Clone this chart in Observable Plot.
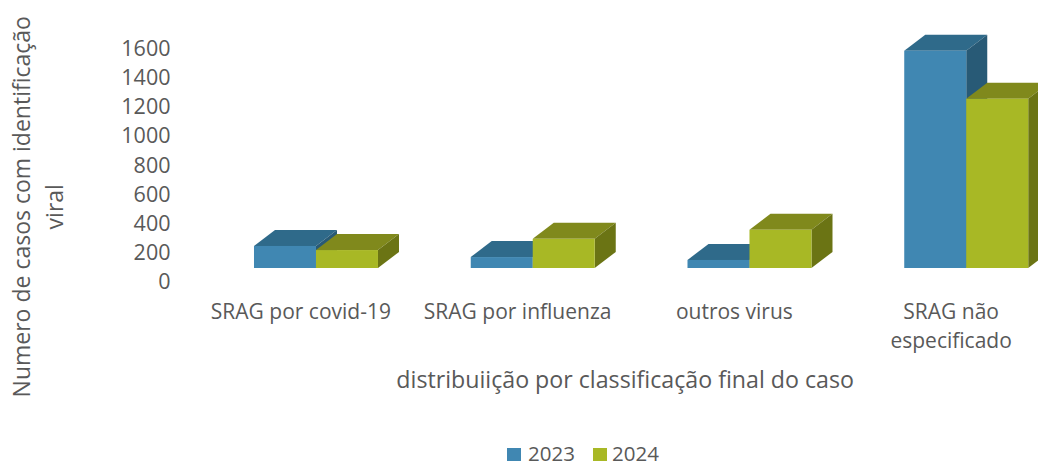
<!DOCTYPE html>
<html><head><meta charset="utf-8">
<script src="https://cdn.jsdelivr.net/npm/d3@7"></script>
<script src="https://cdn.jsdelivr.net/npm/@observablehq/plot@0.6"></script>
<style>
html,body{margin:0;padding:0;background:#fff;overflow:hidden;width:1038px;height:461px}
#legend{position:relative;height:21px;font:20.5px "Open Sans",sans-serif;color:#595959;line-height:26px}
#legend span{position:absolute;top:0;white-space:nowrap}
#legend i{position:absolute;top:8px;width:14px;height:14px}
</style></head><body>
<div id="chart"></div>
<div id="legend"></div>
<script>
const categories = ["SRAG por covid-19", "SRAG por influenza", "outros virus", "SRAG não\nespecificado"];
const years = ["2023", "2024"];
const values2023 = [151, 75, 55, 1489];
const values2024 = [123, 200, 262, 1160];
const yTicks = [0, 200, 400, 600, 800, 1000, 1200, 1400, 1600];
const yLabelLines = "Numero de casos com identificação\nviral";
const xLabel = "distribuiição por classificação final do caso";

const palette = {
  "2023": {front: "#4087b2", top: "#2f6a8a", side: "#285a76"},
  "2024": {front: "#a8b825", top: "#80891c", side: "#6b7414"}
};
const barW = 0.286, shift = 0.072, depthX = 0.097, depthY = 110, lift = -14;

function faces(year, vals, sign) {
  const rows = vals.map((v, i) => {
    const xl = i + shift + (sign < 0 ? -barW : 0), xr = xl + barW;
    return {i, v, xl, xr};
  });
  const top = rows.flatMap(r => [
    {k: r.i, x1: r.xl, y1: r.v, x2: r.xl + depthX, y2: r.v + depthY},
    {k: r.i, x1: r.xr, y1: r.v, x2: r.xr + depthX, y2: r.v + depthY}
  ]);
  const side = rows.flatMap(r => [
    {k: r.i, x1: r.xr, y1: 0, x2: r.xr, y2: r.v},
    {k: r.i, x1: r.xr + depthX, y1: depthY, x2: r.xr + depthX, y2: r.v + depthY}
  ]);
  const c = palette[year];
  const opt = {x1: "x1", y1: "y1", x2: "x2", y2: "y2", z: "k", dy: lift};
  return [
    Plot.area(top, {...opt, fill: c.top}),
    Plot.area(side, {...opt, fill: c.side}),
    Plot.rect(rows, {x1: "xl", x2: "xr", y1: 0, y2: "v", fill: c.front, dy: lift})
  ];
}

const chart = Plot.plot({
  width: 1038, height: 440,
  marginTop: 0, marginRight: 0, marginBottom: 0, marginLeft: 170,
  style: {fontFamily: '"Open Sans", sans-serif', fontSize: "21px", color: "#595959", background: "#fff", overflow: "hidden"},
  x: {domain: [-0.5, 3.5], range: [192, 1059], axis: null},
  y: {domain: [0, 1600], range: [282, 48.5], axis: null},
  marks: [
    ...faces("2023", values2023, -1),
    ...faces("2024", values2024, 1),
    Plot.axisY({ticks: yTicks, tickSize: 0, tickPadding: 0, anchor: "left", label: null, tickFormat: d => String(d), fontSize: 21.5, fill: "#595959"}),
    Plot.text(categories, {x: (d, i) => i, y: 0, text: d => d, dy: 16, lineAnchor: "top", lineHeight: 1.38, fontSize: 21, fill: "#595959"}),
    Plot.text([xLabel], {x: 1.496, y: 0, dy: 98, fontSize: 23.2, fill: "#595959"}),
    Plot.text([yLabelLines], {x: -0.5, y: 800, dx: -156.5, dy: 41, rotate: -90, lineHeight: 1.43, fontSize: 23, fill: "#595959"})
  ]
});
document.getElementById("chart").append(chart);
const lg = document.getElementById("legend");
[[507, 528, years[0], palette["2023"].front], [593, 612, years[1], palette["2024"].front]].forEach(([a, b, t, c]) => {
  const sq = document.createElement("i"); sq.style.left = a + "px"; sq.style.background = c; lg.append(sq);
  const s = document.createElement("span"); s.style.left = b + "px"; s.textContent = t; lg.append(s);
});
</script>
</body></html>
